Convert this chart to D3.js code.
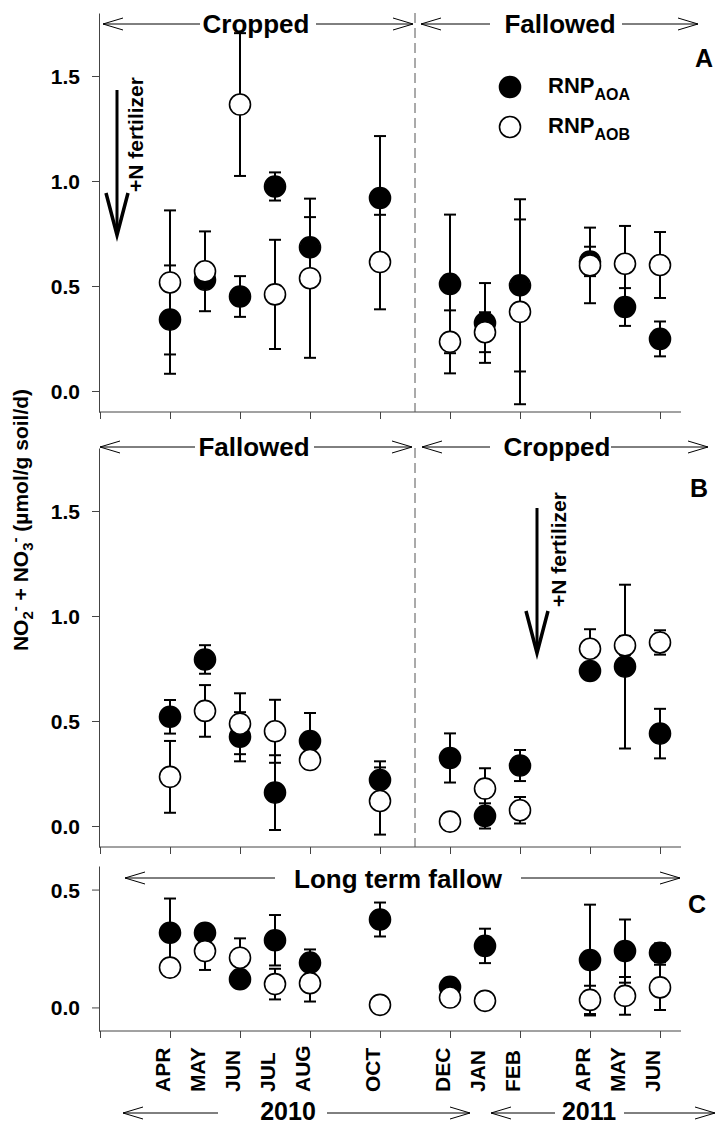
<!DOCTYPE html>
<html>
<head>
<meta charset="utf-8">
<script src="https://cdn.jsdelivr.net/npm/d3@7/dist/d3.min.js"></script>
<style>
  body { margin: 0; background: #fff; }
  svg { display: block; }
  text { font-family: "Liberation Sans", Arial, sans-serif; font-weight: bold; fill: #000; }
</style>
</head>
<body>
<svg id="chart" width="718" height="1127"></svg>
<script>
// month index: 0 = Feb 2010
var months = [2, 3, 4, 5, 6, 8, 10, 11, 12, 14, 15, 16];
var monthLabels = ['APR', 'MAY', 'JUN', 'JUL', 'AUG', 'OCT', 'DEC', 'JAN', 'FEB', 'APR', 'MAY', 'JUN'];
var tickMonths = [0, 2, 4, 6, 8, 10, 12, 14, 16];

var aoaA = [0.34, 0.53, 0.45, 0.974, 0.684, 0.919, 0.51, 0.324, 0.503, 0.617, 0.40, 0.248];
var aoaAErr = [0.258, 0.03, 0.097, 0.067, 0.144, 0.295, 0.33, 0.19, 0.41, 0.07, 0.09, 0.083];
var aobA = [0.517, 0.57, 1.364, 0.46, 0.537, 0.614, 0.234, 0.28, 0.377, 0.598, 0.606, 0.60];
var aobAErr = [0.343, 0.19, 0.34, 0.26, 0.379, 0.225, 0.15, 0.095, 0.44, 0.18, 0.18, 0.157];

var aoaB = [0.52, 0.793, 0.425, 0.159, 0.405, 0.219, 0.324, 0.048, 0.288, 0.738, 0.759, 0.44];
var aoaBErr = [0.08, 0.068, 0.117, 0.178, 0.133, 0.089, 0.117, 0.06, 0.074, 0.03, 0.39, 0.118];
var aobB = [0.234, 0.548, 0.487, 0.451, 0.314, 0.119, 0.021, 0.178, 0.075, 0.844, 0.86, 0.874];
var aobBErr = [0.171, 0.123, 0.145, 0.15, 0.03, 0.16, 0.03, 0.097, 0.063, 0.093, 0.045, 0.058];

// panel C has no FEB sample
var monthsC = [2, 3, 4, 5, 6, 8, 10, 11, 14, 15, 16];
var aoaC = [0.317, 0.317, 0.12, 0.285, 0.19, 0.373, 0.087, 0.261, 0.201, 0.239, 0.232];
var aoaCErr = [0.145, 0.03, 0.03, 0.107, 0.056, 0.072, 0.035, 0.073, 0.235, 0.134, 0.04];
var aobC = [0.169, 0.239, 0.211, 0.099, 0.103, 0.011, 0.042, 0.028, 0.032, 0.049, 0.085];
var aobCErr = [0.03, 0.08, 0.082, 0.065, 0.078, 0.03, 0.02, 0.03, 0.06, 0.08, 0.096];

var svg = d3.select('#chart');
var x = d3.scaleLinear().domain([0, 16.6]).range([100, 681]);

var panels = [
  { id: 'A', months: months, aoa: aoaA, aoaErr: aoaAErr, aob: aobA, aobErr: aobAErr,
    y: d3.scaleLinear().domain([-0.1, 1.8]).range([412, 13]), ticks: [0, 0.5, 1, 1.5], split: true },
  { id: 'B', months: months, aoa: aoaB, aoaErr: aoaBErr, aob: aobB, aobErr: aobBErr,
    y: d3.scaleLinear().domain([-0.1, 1.8]).range([847, 448]), ticks: [0, 0.5, 1, 1.5], split: true },
  { id: 'C', months: monthsC, aoa: aoaC, aoaErr: aoaCErr, aob: aobC, aobErr: aobCErr,
    y: d3.scaleLinear().domain([-0.1, 0.6]).range([1031, 866]), ticks: [0, 0.5], split: false }
];

var r = 10.5, cap = 6;

function drawSeries(g, p, vals, errs, filled) {
  var pts = p.months.map(function (m, i) { return { m: m, v: vals[i], e: errs[i] }; });
  var bars = g.append('g').attr('stroke', '#000').attr('stroke-width', 2).attr('fill', 'none');
  pts.forEach(function (d) {
    var cx = x(d.m), y1 = p.y(d.v + d.e), y0 = p.y(d.v - d.e);
    bars.append('line').attr('x1', cx).attr('x2', cx).attr('y1', y1).attr('y2', y0);
    bars.append('line').attr('x1', cx - cap).attr('x2', cx + cap).attr('y1', y1).attr('y2', y1);
    bars.append('line').attr('x1', cx - cap).attr('x2', cx + cap).attr('y1', y0).attr('y2', y0);
  });
  g.append('g').selectAll('circle').data(pts).enter().append('circle')
    .attr('cx', function (d) { return x(d.m); })
    .attr('cy', function (d) { return p.y(d.v); })
    .attr('r', r)
    .attr('fill', filled ? '#000' : '#fff')
    .attr('stroke', '#000')
    .attr('stroke-width', 1.6);
}

panels.forEach(function (p) {
  var g = svg.append('g');
  var yr = p.y.range();
  g.append('g').attr('transform', 'translate(99,0)')
    .call(d3.axisLeft(p.y).tickValues(p.ticks).tickFormat(d3.format('.1f')).tickSize(7).tickSizeOuter(0).tickPadding(12))
    .call(function (a) {
      a.selectAll('text').style('font-size', '21px').attr('dy', '0.36em');
      a.selectAll('line,path').attr('stroke', '#444');
    });
  g.append('g').attr('transform', 'translate(0,' + yr[0] + ')')
    .call(d3.axisBottom(x).tickValues(tickMonths).tickFormat('').tickSize(7).tickSizeOuter(0))
    .call(function (a) {
      a.select('.domain').attr('d', 'M99,0H681');
      a.selectAll('line,path').attr('stroke', '#444');
    });
  if (p.split) {
    g.append('line').attr('x1', x(9)).attr('x2', x(9)).attr('y1', yr[1]).attr('y2', yr[0])
      .attr('stroke', '#555').attr('stroke-width', 1).attr('stroke-dasharray', '10,5');
  }
  drawSeries(g, p, p.aoa, p.aoaErr, true);
  drawSeries(g, p, p.aob, p.aobErr, false);
});

// arrows with open heads
function arrowHead(x0, y0, dir) {
  svg.append('path')
    .attr('d', 'M' + (x0 - dir * 20) + ',' + (y0 - 6) + 'L' + x0 + ',' + y0 + 'L' + (x0 - dir * 20) + ',' + (y0 + 6))
    .attr('fill', 'none').attr('stroke', '#000').attr('stroke-width', 1);
}
function spanArrow(x0, x1, xt0, xt1, yy, label, cx, by, size) {
  svg.append('line').attr('x1', x0).attr('x2', xt0).attr('y1', yy).attr('y2', yy).attr('stroke', '#000');
  svg.append('line').attr('x1', xt1).attr('x2', x1).attr('y1', yy).attr('y2', yy).attr('stroke', '#000');
  arrowHead(x0, yy, -1);
  arrowHead(x1, yy, 1);
  svg.append('text').attr('x', cx).attr('y', by).attr('text-anchor', 'middle')
    .style('font-size', (size || 26) + 'px').text(label);
}
spanArrow(103, 413, 200, 316, 24, 'Cropped', 256, 33);
spanArrow(421, 698, 490, 622, 24, 'Fallowed', 560, 33);
spanArrow(100, 412, 195, 314, 447, 'Fallowed', 254, 456);
spanArrow(422, 708, 490, 611, 447, 'Cropped', 557, 456);
spanArrow(125, 680, 275, 521, 878, 'Long term fallow', 398, 888);
spanArrow(123, 470, 218, 327, 1113, '2010', 288, 1120, 25);
spanArrow(491, 715, 555, 624, 1113, '2011', 589, 1120, 25);

// fertilizer arrows
function fertArrow(ax, yTop, yTip, tx, tyStart) {
  svg.append('line').attr('x1', ax).attr('x2', ax).attr('y1', yTop).attr('y2', yTip - 4)
    .attr('stroke', '#000').attr('stroke-width', 3);
  svg.append('path')
    .attr('d', 'M' + (ax - 11) + ',' + (yTip - 42) + 'L' + ax + ',' + yTip + 'L' + (ax + 11) + ',' + (yTip - 42))
    .attr('fill', 'none').attr('stroke', '#000').attr('stroke-width', 3.5).attr('stroke-linejoin', 'miter');
  svg.append('text').attr('transform', 'translate(' + tx + ',' + tyStart + ') rotate(-90)')
    .style('font-size', '21px').text('+N fertilizer');
}
fertArrow(117, 90, 235, 143, 192);
fertArrow(537, 508, 653, 566, 607);

// panel letters
[['A', 695, 67], ['B', 690, 497], ['C', 688, 913]].forEach(function (l) {
  svg.append('text').attr('x', l[1]).attr('y', l[2]).style('font-size', '25px').text(l[0]);
});

// legend
var legend = [['AOA', true], ['AOB', false]];
legend.forEach(function (d, i) {
  var ly = 87 + i * 40;
  svg.append('circle').attr('cx', 510).attr('cy', ly).attr('r', r)
    .attr('fill', d[1] ? '#000' : '#fff').attr('stroke', '#000').attr('stroke-width', 1.6);
  var t = svg.append('text').attr('x', 548).attr('y', ly + 6).style('font-size', '22px');
  t.append('tspan').text('RNP');
  t.append('tspan').attr('dy', 7).style('font-size', '16px').text(d[0]);
});

// month labels under panel C
months.forEach(function (m, i) {
  svg.append('text').attr('transform', 'translate(' + x(m) + ',1092) rotate(-90)')
    .style('font-size', '21px').text(monthLabels[i]);
});

// y axis title
var yl = svg.append('text').attr('transform', 'translate(28,520) rotate(-90)')
  .attr('text-anchor', 'middle').style('font-size', '21px');
yl.append('tspan').text('NO');
yl.append('tspan').attr('dy', 5).style('font-size', '15px').text('2');
yl.append('tspan').attr('dy', -13).style('font-size', '15px').text('-');
yl.append('tspan').attr('dy', 8).text(' + NO');
yl.append('tspan').attr('dy', 5).style('font-size', '15px').text('3');
yl.append('tspan').attr('dy', -13).style('font-size', '15px').text('-');
yl.append('tspan').attr('dy', 8).text(' (\u00b5mol/g soil/d)');
</script>
</body>
</html>
